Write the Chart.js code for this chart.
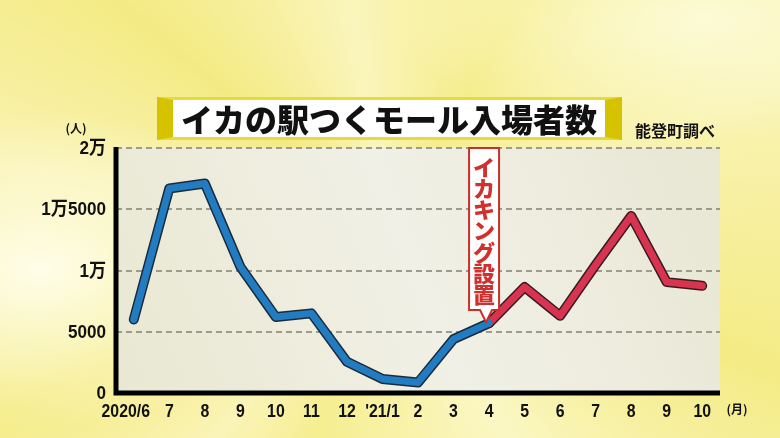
<!DOCTYPE html>
<html>
<head>
<meta charset="utf-8">
<script src="https://cdn.jsdelivr.net/npm/chart.js"></script>
<style>
    html, body {
        margin: 0;
        padding: 0;
        width: 780px;
        height: 438px;
        overflow: hidden;
    }
    body {
        position: relative;
        background:
            radial-gradient(ellipse 260px 160px at 40px 270px, rgba(255,255,240,0.9), rgba(255,255,240,0) 100%),
            radial-gradient(ellipse 300px 120px at 700px 20px, rgba(255,255,235,0.7), rgba(255,255,235,0) 100%),
            conic-gradient(from 200deg at 390px 230px,
                #f6ee90 0deg, #faf4b8 20deg, #f5ec88 45deg, #f9f2ae 80deg,
                #f4ea84 110deg, #faf5bc 150deg, #f5ed8c 190deg, #f9f3b2 230deg,
                #f4eb86 270deg, #fbf7c4 310deg, #f6ee90 360deg);
        font-family: "Noto Sans CJK JP", sans-serif;
    }
    #chart {
        position: absolute;
        left: 0;
        top: 0;
    }
    .title {
        position: absolute;
        left: 157px;
        top: 97px;
        width: 465px;
        height: 43px;
        box-sizing: border-box;
        background: #fff;
        border-top: 3px solid #e6da3c;
        border-bottom: 3px solid #e6da3c;
        border-left: 16px solid #d5c300;
        border-right: 17px solid #d5c300;
        text-align: center;
        font-weight: 900;
        font-size: 32px;
        line-height: 37px;
        color: #111;
    }
    .source {
        position: absolute;
        left: 635px;
        top: 118px;
        font-weight: 700;
        font-size: 16px;
        color: #111;
    }
</style>
</head>
<body>
<canvas id="chart" width="780" height="438"></canvas>
<div class="title">イカの駅つくモール入場者数</div>
<div class="source">能登町調べ</div>
<script>
    var months = ['2020/6', '7', '8', '9', '10', '11', '12', "'21/1", '2', '3', '4', '5', '6', '7', '8', '9', '10'];
    var beforeValues = [6000, 16700, 17100, 10300, 6200, 6500, 2550, 1150, 850, 4400, 5700, null, null, null, null, null, null];
    var afterValues = [null, null, null, null, null, null, null, null, null, null, 5700, 8650, 6300, 10450, 14450, 9050, 8750];
    var yTickValues = [0, 5000, 10000, 15000, 20000];
    var yTickLabels = ['0', '5000', '1万', '1万5000', '2万'];
    var markerIndex = 10;
    var markerLabel = 'イカキング設置';

    var labelFont = "'Liberation Sans', 'Noto Sans CJK JP', sans-serif";

    // condensed text helper (the broadcast font is narrow)
    function narrowText(ctx, text, x, y, sx, align) {
        ctx.save();
        ctx.translate(x, y);
        ctx.scale(sx, 1);
        ctx.textAlign = align;
        ctx.fillText(text, 0, 0);
        ctx.restore();
    }

    // plot background, L shaped axis, tick labels, unit labels
    var framePlugin = {
        id: 'frame',
        beforeDraw: function (chart) {
            var a = chart.chartArea, ctx = chart.ctx;
            ctx.save();
            var g = ctx.createLinearGradient(a.left, a.bottom, a.right, a.top);
            g.addColorStop(0, '#e9e8d2');
            g.addColorStop(0.5, '#f1f0e6');
            g.addColorStop(1, '#e8e7d4');
            ctx.fillStyle = g;
            ctx.fillRect(a.left, a.top, a.right - a.left, a.bottom - a.top);
            ctx.restore();
        },
        afterDraw: function (chart) {
            var a = chart.chartArea, ctx = chart.ctx;
            var xs = chart.scales.x, ys = chart.scales.y;
            ctx.save();
            ctx.strokeStyle = '#000';
            ctx.lineWidth = 5;
            ctx.lineJoin = 'miter';
            ctx.beginPath();
            ctx.moveTo(a.left, a.top - 1);
            ctx.lineTo(a.left, a.bottom);
            ctx.lineTo(a.right, a.bottom);
            ctx.stroke();

            ctx.fillStyle = '#111';
            ctx.textBaseline = 'middle';
            ctx.font = "bold 18px " + labelFont;
            months.forEach(function (m, i) {
                // first (long) label is nudged left so it clears the next one
                var shift = i === 0 ? -8 : 0;
                narrowText(ctx, m, xs.getPixelForValue(i) + shift, 412, 0.88, 'center');
            });
            ctx.font = "bold 19px " + labelFont;
            yTickValues.forEach(function (v, i) {
                narrowText(ctx, yTickLabels[i], a.left - 10, ys.getPixelForValue(v) + 1, 0.9, 'right');
            });

            ctx.font = "bold 12px 'Noto Sans CJK JP', sans-serif";
            ctx.textAlign = 'center';
            ctx.fillText('(人)', 76, 128);
            ctx.fillText('(月)', 737, 409);
            ctx.restore();
        }
    };

    // red callout box pointing at the marker month
    var markerPlugin = {
        id: 'marker',
        afterDatasetsDraw: function (chart) {
            var ctx = chart.ctx;
            var px = chart.scales.x.getPixelForValue(markerIndex);
            var py = chart.scales.y.getPixelForValue(afterValues[markerIndex]);
            var left = px - 20, right = px + 10, top = 148, bottom = 310;
            var tipX = px - 3, tipY = py - 1;
            ctx.save();
            ctx.beginPath();
            ctx.moveTo(left, top);
            ctx.lineTo(right, top);
            ctx.lineTo(right, bottom);
            ctx.lineTo(tipX + 6, bottom);
            ctx.lineTo(tipX, tipY);
            ctx.lineTo(tipX - 6, bottom);
            ctx.lineTo(left, bottom);
            ctx.closePath();
            ctx.fillStyle = '#fff';
            ctx.fill();
            ctx.strokeStyle = '#c9302a';
            ctx.lineWidth = 2;
            ctx.stroke();

            ctx.fillStyle = '#d1302c';
            ctx.font = "900 22px 'Noto Sans CJK JP', sans-serif";
            ctx.textAlign = 'center';
            ctx.textBaseline = 'middle';
            var chars = Array.from(markerLabel);
            var step = (bottom - top - 14) / chars.length;
            chars.forEach(function (c, i) {
                ctx.fillText(c, (left + right) / 2, top + 9 + step * (i + 0.5));
            });
            ctx.restore();
        }
    };

    function lineSet(values, color, width) {
        return {
            data: values,
            borderColor: color,
            borderWidth: width,
            pointRadius: 0,
            fill: false,
            tension: 0,
            borderCapStyle: 'round',
            borderJoinStyle: 'round',
            spanGaps: false
        };
    }

    var ctx = document.getElementById('chart').getContext('2d');
    var chart = new Chart(ctx, {
        type: 'line',
        data: {
            labels: months,
            // dark outline drawn first, coloured line on top
            datasets: [
                Object.assign(lineSet(beforeValues, '#1c2b3c', 10), { order: 2 }),
                Object.assign(lineSet(afterValues, '#3a1a22', 10), { order: 2 }),
                Object.assign(lineSet(beforeValues, '#217cc1', 7), { order: 1 }),
                Object.assign(lineSet(afterValues, '#d8344f', 7), { order: 1 })
            ]
        },
        options: {
            responsive: false,
            animation: false,
            layout: { padding: { left: 0, top: 148, right: 60, bottom: 0 } },
            plugins: {
                legend: { display: false },
                tooltip: { enabled: false }
            },
            scales: {
                x: {
                    offset: true,
                    grid: { display: false, drawTicks: false },
                    border: { display: false },
                    ticks: { display: false, autoSkip: false },
                    afterFit: function (scale) { scale.height = 45; }
                },
                y: {
                    min: 0,
                    max: 20000,
                    afterBuildTicks: function (scale) {
                        scale.ticks = yTickValues.map(function (v) { return { value: v }; });
                    },
                    grid: { color: '#9c9b8c', lineWidth: 2, drawTicks: false },
                    border: { display: false, dash: [6, 4] },
                    ticks: { display: false },
                    afterFit: function (scale) { scale.width = 116; }
                }
            }
        },
        plugins: [framePlugin, markerPlugin]
    });
</script>
</body>
</html>
